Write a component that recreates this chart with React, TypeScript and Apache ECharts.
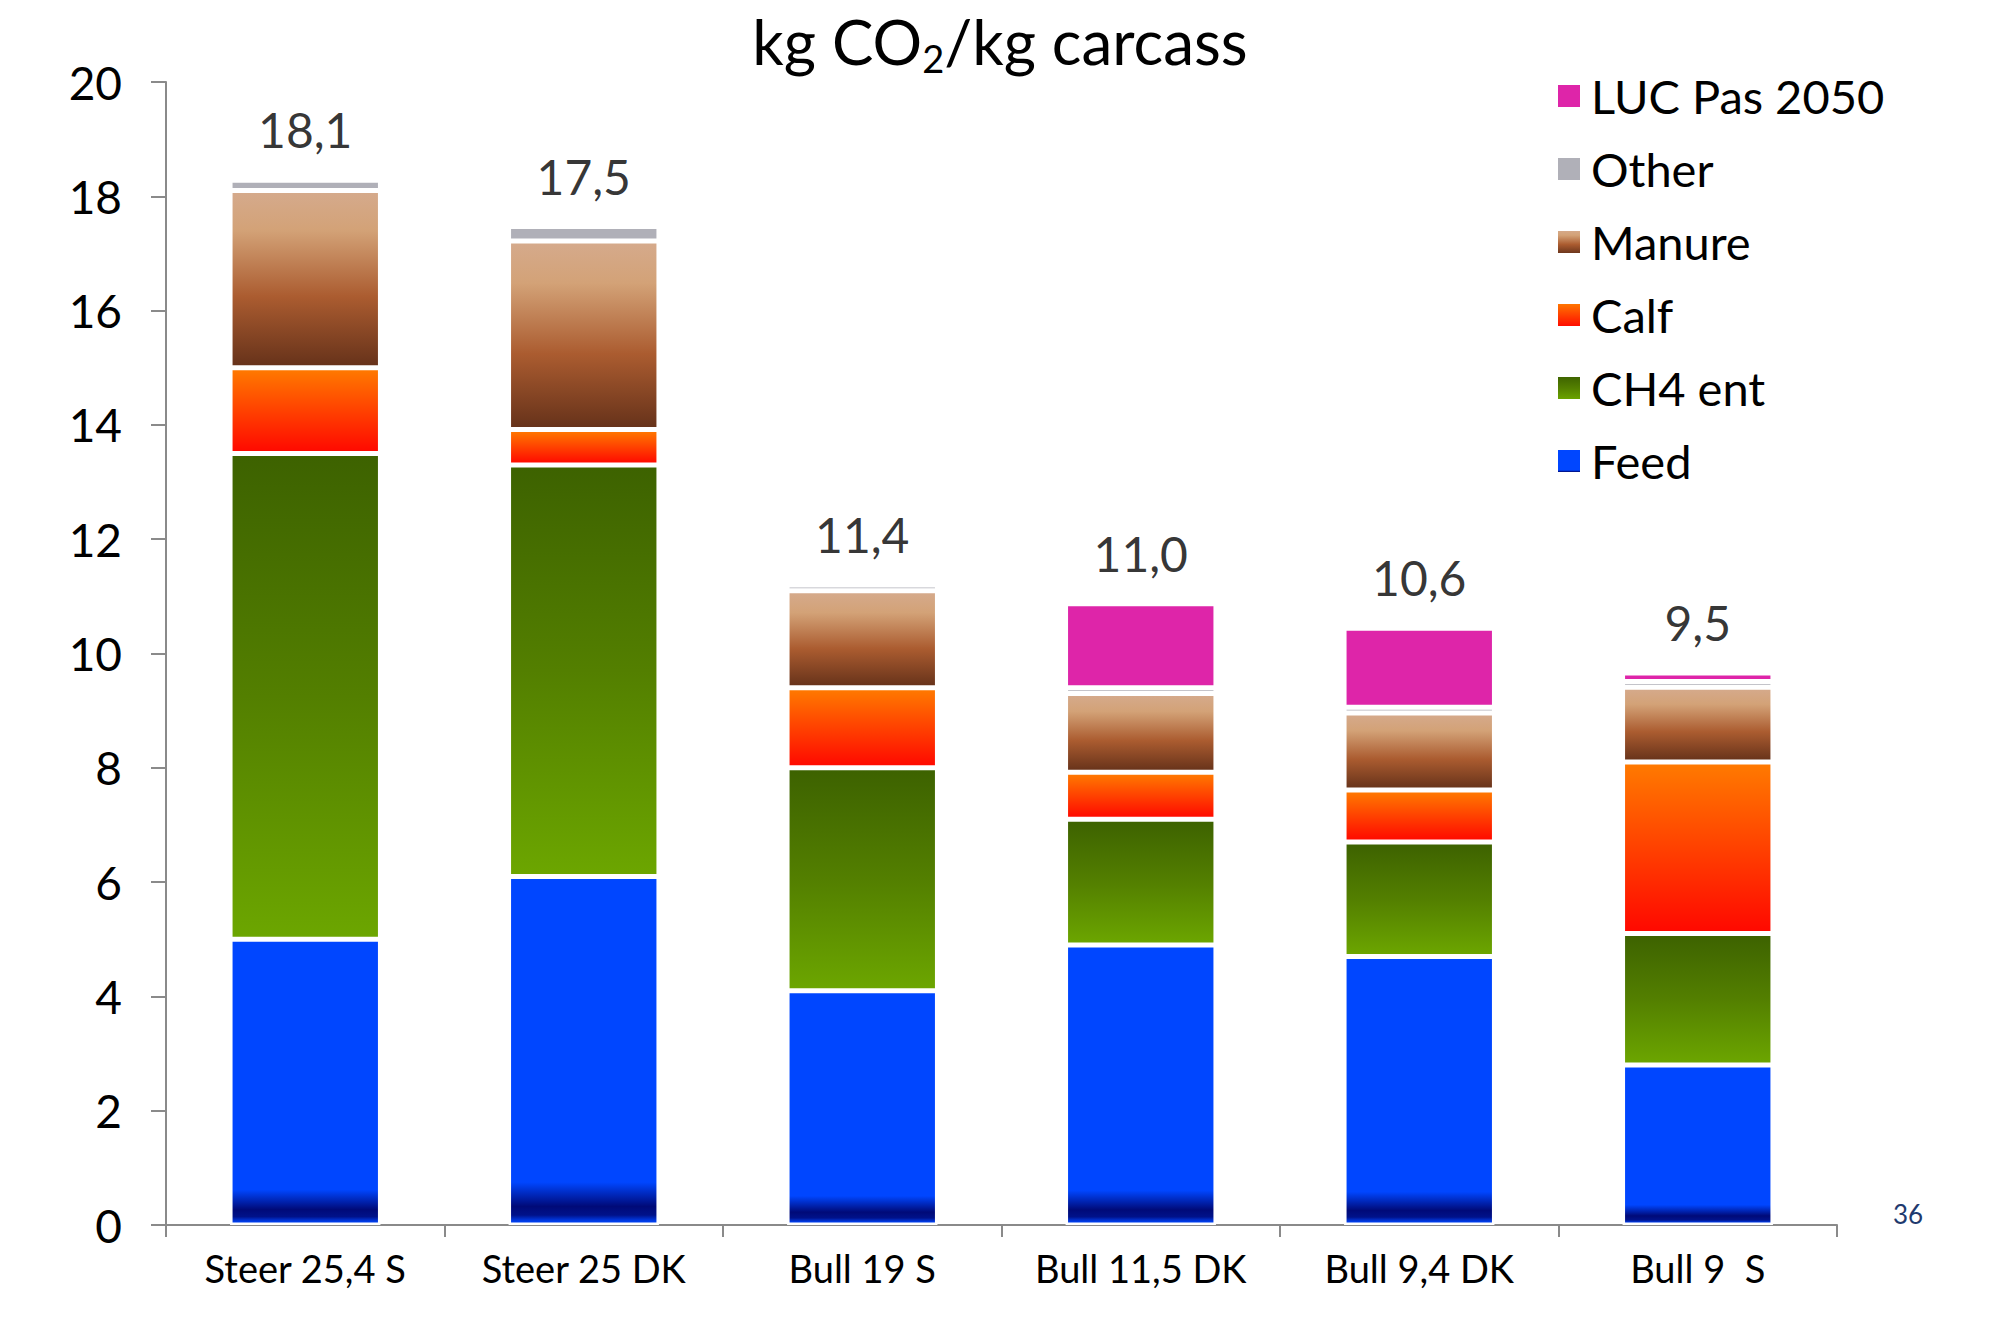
import React, { useEffect, useRef } from "react";
import * as echarts from "echarts";

const categories = ["Steer 25,4 S", "Steer 25 DK", "Bull 19 S", "Bull 11,5 DK", "Bull 9,4 DK", "Bull 9  S"];
const feed = [5.0, 6.1, 4.1, 4.9, 4.7, 2.8];
const ch4Ent = [8.5, 7.2, 3.9, 2.2, 2.0, 2.3];
const calf = [1.5, 0.62, 1.4, 0.82, 0.91, 3.0];
const manure = [3.1, 3.3, 1.7, 1.38, 1.35, 1.31];
const other = [0.18, 0.25, 0.1, 0.1, 0.1, 0.1];
const lucPas2050 = [null, null, null, 1.47, 1.38, 0.15];
const totalLabels = [18.1, 17.5, 11.4, 11.0, 10.6, 9.5];
const legendOrder = ["LUC Pas 2050", "Other", "Manure", "Calf", "CH4 ent", "Feed"];

const FONT = "Lato, 'Noto Sans', sans-serif";

const grad = (stops: [number, string][]) =>
  new echarts.graphic.LinearGradient(
    0, 0, 0, 1,
    stops.map(([offset, color]) => ({ offset, color }))
  );

export default function App() {
  const ref = useRef<HTMLDivElement>(null);

  useEffect(() => {
    document.body.style.margin = "0";
    if (!ref.current) return;
    const chart = echarts.init(ref.current, null, { renderer: "svg" });

    const seriesDefs = [
      {
        name: "Feed",
        data: feed,
        color: grad([
          [0, "#0046ff"],
          [0.88, "#0046ff"],
          [0.95, "#000a78"],
          [0.975, "#00128a"],
          [0.99, "#0038e0"],
          [1, "#0046ff"],
        ]),
      },
      {
        name: "CH4 ent",
        data: ch4Ent,
        color: grad([
          [0, "#3d6200"],
          [0.5, "#537f00"],
          [1, "#6ca600"],
        ]),
      },
      {
        name: "Calf",
        data: calf,
        color: grad([
          [0, "#ff7a00"],
          [1, "#ff0800"],
        ]),
      },
      {
        name: "Manure",
        data: manure,
        color: grad([
          [0, "#d5aa8c"],
          [0.22, "#d3a277"],
          [0.6, "#ab5c30"],
          [1, "#66321a"],
        ]),
      },
      { name: "Other", data: other, color: "#b0b0b8" },
      { name: "LUC Pas 2050", data: lucPas2050, color: "#de25a9" },
    ];

    const totals = categories.map((_, i) =>
      [feed, ch4Ent, calf, manure, other, lucPas2050].reduce((s, arr) => s + ((arr[i] as number) || 0), 0)
    );

    const option: any = {
      animation: false,
      backgroundColor: "#ffffff",
      title: {
        text: "{a|kg CO}{s|2}{a|/kg carcass}",
        left: "center",
        top: 0,
        textStyle: {
          rich: {
            a: { fontSize: 62, fontWeight: "normal", fontFamily: FONT, color: "#000", lineHeight: 72, verticalAlign: "middle" },
            s: { fontSize: 38, fontWeight: "normal", fontFamily: FONT, color: "#000", lineHeight: 30, verticalAlign: "bottom" },
          },
        },
      },
      legend: {
        data: legendOrder,
        orient: "vertical",
        left: 1556,
        top: 72,
        padding: 0,
        icon: "rect",
        itemWidth: 24,
        itemHeight: 24,
        itemGap: 25,
        textStyle: {
          fontSize: 47,
          lineHeight: 48,
          fontFamily: FONT,
          color: "#000",
          padding: [0, 0, 0, 5],
        },
      },
      grid: { left: 166, right: 163, top: 82, bottom: 110, containLabel: false },
      xAxis: {
        type: "category",
        data: categories,
        axisLine: { show: true, lineStyle: { color: "#8a8a8a", width: 2 } },
        axisTick: { show: true, length: 12, alignWithLabel: false, lineStyle: { color: "#8a8a8a", width: 2 } },
        axisLabel: { fontSize: 38, fontFamily: FONT, color: "#000", margin: 24 },
        splitLine: { show: false },
      },
      yAxis: {
        type: "value",
        min: 0,
        max: 20,
        interval: 2,
        axisLine: { show: true, lineStyle: { color: "#8a8a8a", width: 2 } },
        axisTick: { show: true, length: 15, lineStyle: { color: "#8a8a8a", width: 2 } },
        axisLabel: { fontSize: 46, fontFamily: FONT, color: "#000", margin: 44 },
        splitLine: { show: false },
      },
      series: [
        ...seriesDefs.map((d) => ({
          name: d.name,
          type: "bar",
          stack: "total",
          barWidth: "54%",
          data: d.data,
          itemStyle: { color: d.color, borderColor: "#ffffff", borderWidth: 2.5 },
          emphasis: { disabled: true },
        })),
        {
          name: "totals",
          type: "scatter",
          data: totals,
          symbolSize: 1,
          itemStyle: { color: "rgba(0,0,0,0)" },
          silent: true,
          z: 10,
          label: {
            show: true,
            position: "top",
            distance: 26,
            fontSize: 48,
            fontFamily: FONT,
            color: "#000",
            formatter: (p: any) => totalLabels[p.dataIndex].toFixed(1).replace(".", ","),
          },
        },
      ],
      graphic: [
        {
          type: "text",
          left: 1893,
          top: 1201,
          style: { text: "36", fontSize: 26, fontFamily: FONT, fill: "#1f3a6e" },
        },
      ],
    };

    chart.setOption(option);
    return () => chart.dispose();
  }, []);

  return <div ref={ref} style={{ width: 2000, height: 1335 }} />;
}
